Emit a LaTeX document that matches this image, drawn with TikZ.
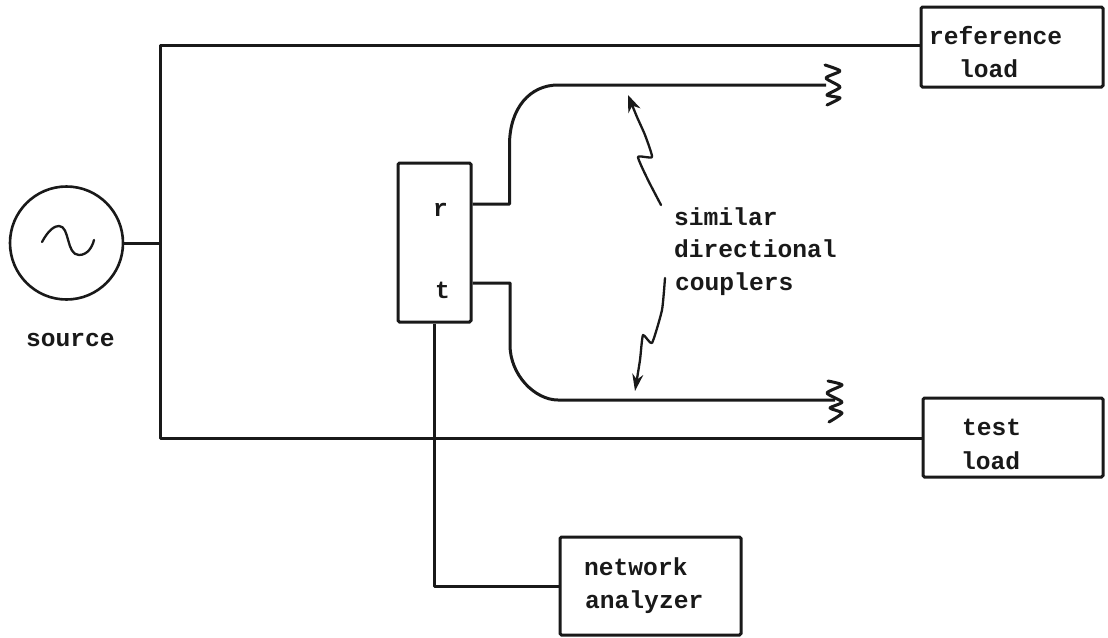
\documentclass[tikz,border=0pt]{standalone}
\usepackage{fontspec}
\setmonofont{Liberation Mono}
\usetikzlibrary{arrows.meta}
\tikzset{
  wire/.style={line width=3pt,line cap=butt,line join=round,black!90},
  thin wire/.style={line width=2.3pt,line cap=round,line join=round,black!90},
  boxn/.style={draw=black!90,line width=3pt,rectangle,inner sep=0pt,rounded corners=1.5pt},
  lbl/.style={inner sep=0pt,anchor=base west,font=\ttfamily\bfseries\fontsize{24.6pt}{28pt}\selectfont,text=black!90},
}
\begin{document}
\begin{tikzpicture}[x=1pt,y=-1pt]
\useasboundingbox (0,0) rectangle (1108,637);
\fill[white] (0,0) rectangle (1108,637);
% nodes
\node[draw=black!90,line width=2.6pt,circle,minimum size=113pt,inner sep=0pt] (src) at (66.5,243) {};
\node[boxn,minimum width=182pt,minimum height=80pt] (ref) at (1012,47) {};
\node[boxn,minimum width=180pt,minimum height=79pt] (test) at (1013,437.5) {};
\node[boxn,minimum width=181pt,minimum height=98pt] (net) at (650.5,586) {};
\node[boxn,minimum width=73pt,minimum height=159pt] (mux) at (434.5,242.5) {};
% labels
\node[lbl] (lsrc) at (26,346) {source};
\node[lbl] (lr) at (433,216) {r};
\node[lbl] (lt) at (435,298) {t};
\node[lbl] (l1) at (929,44) {reference};
\node[lbl] (l2) at (959,77) {load};
\node[lbl] (l3) at (962,435) {test};
\node[lbl] (l4) at (961,469) {load};
\node[lbl] (l5) at (584,575) {network};
\node[lbl] (l6) at (585,608) {analyzer};
\node[lbl] (l7) at (674,225) {similar};
\node[lbl] (l8) at (674,257) {directional};
\node[lbl] (l9) at (675,290) {couplers};
% junction coordinates
\coordinate (tl) at (160,45);
\coordinate (bl) at (160,438);
\coordinate (cu) at (509.5,204);
\coordinate (cd) at (510,283);
\coordinate (cue) at (826,85);
\coordinate (cde) at (835,400);
% main wires
\draw[wire] (src.east) -- (src.east -| tl);
\draw[wire] (tl -| ref.west) -- (tl) -- (bl) -- (bl -| test.west);
\draw[wire] (mux.south) -- (mux.south |- net.west) -- (net.west);
% couplers
\draw[wire] (cu -| mux.east) -- (cu) -- (509.5,145) .. controls (509.5,108) and (530,85) .. (558,85) -- (cue);
\draw[wire] (cd -| mux.east) -- (cd) -- (510,345) .. controls (510,375) and (535,400) .. (558,400) -- (cde);
% terminations
\draw[thin wire,line width=3pt] plot[smooth,tension=0.4] coordinates {(825,65) (840,71) (826,78) (840,87) (827,95) (840,98) (827,105)};
\draw[thin wire,line width=3pt] plot[smooth,tension=0.4] coordinates {(828,381) (842,385) (827,393) (842,402) (830,408) (842,413) (829,422)};
% pointers
\draw[thin wire,-{Stealth[length=17pt,width=13pt]}] plot[smooth,tension=0.3] coordinates {(661,205) (648,180) (638,157) (652,157) (645,135) (637,117) (628,95)};
\draw[thin wire,-{Stealth[length=17pt,width=11pt]}] plot[smooth,tension=0.3] coordinates {(665,278) (662,310) (652,343) (643,335) (640,360) (635,391)};
% sine
\draw[thin wire] (42,242) .. controls (49,229) and (55,226) .. (59,226) .. controls (70,226) and (66,255) .. (79,255) .. controls (87,255) and (92,248) .. (94,240);
\end{tikzpicture}
\end{document}
